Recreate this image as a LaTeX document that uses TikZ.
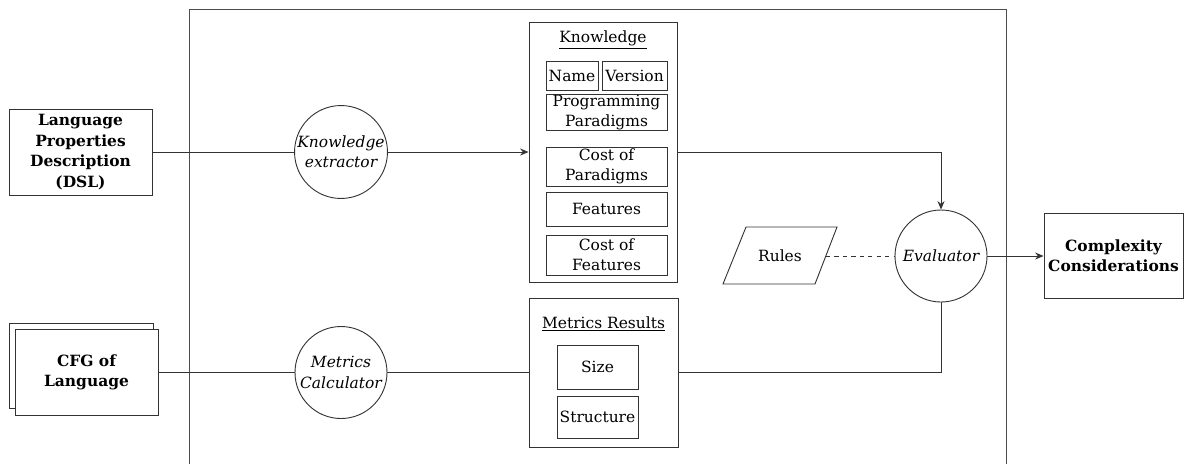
\documentclass[tikz,border=0pt]{standalone}
\usepackage{fontspec}
\setmainfont{DejaVu Serif}
\usetikzlibrary{arrows.meta}
\begin{document}
\begin{tikzpicture}[x=0.025cm,y=-0.025cm,
  every node/.style={font=\fontsize{11}{14.5}\selectfont, align=center, inner sep=0pt},
  ln/.style={draw=black!80, line width=0.65pt},
  box/.style={ln, rectangle, fill=white},
  circ/.style={ln, circle, minimum size=92*0.025cm, font=\fontsize{11}{14.5}\selectfont\itshape},
  arr/.style={ln, -{Stealth[length=6pt,width=5pt]}},
  bld/.style={font=\fontsize{11}{14.5}\selectfont\bfseries}
]
\useasboundingbox (0,0) rectangle (1187,463);
\clip (0,0) rectangle (1187,463);
% outer frame
\draw[ln, draw=black!70] (189,480) -- (189,9) -- (1006,9) -- (1006,480);

% inputs
\node[box, bld, minimum width=143*0.025cm, minimum height=86*0.025cm] (lang) at (80.5,152) {Language\\Properties\\Description\\(DSL)};
\node[box, minimum width=144*0.025cm, minimum height=85*0.025cm] (cfgback) at (81,366) {};
\node[box, bld, minimum width=143*0.025cm, minimum height=86*0.025cm] (cfg) at (86.5,372.5) {CFG of\\Language};

% processors
\node[circ] (ke) at (341,152) {Knowledge\\extractor};
\node[circ] (mc) at (341,372.5) {Metrics\\Calculator};

% knowledge box
\node[box, minimum width=148*0.025cm, minimum height=260*0.025cm] (know) at (603,152) {};
\node (ktitle) at (603,40) {\underline{Knowledge}};
\node[box, minimum width=52*0.025cm, minimum height=29*0.025cm] (name) at (572,75.5) {Name};
\node[box, minimum width=65*0.025cm, minimum height=29*0.025cm] (version) at (634.5,75.5) {Version};
\node[box, minimum width=121*0.025cm, minimum height=35*0.025cm] (prog) at (606.5,112.5) {Programming\\Paradigms};
\node[box, minimum width=121*0.025cm, minimum height=39*0.025cm] (costp) at (606.5,166.5) {Cost of\\Paradigms};
\node[box, minimum width=121*0.025cm, minimum height=34*0.025cm] (feat) at (606.5,209) {Features};
\node[box, minimum width=121*0.025cm, minimum height=40*0.025cm] (costf) at (606.5,255) {Cost of\\Features};

% metrics box
\node[box, minimum width=149*0.025cm, minimum height=149*0.025cm] (metrics) at (603.5,372.5) {};
\node (mtitle) at (603.5,324) {\underline{Metrics Results}};
\node[box, minimum width=81*0.025cm, minimum height=44*0.025cm] (size) at (597.5,367) {Size};
\node[box, minimum width=81*0.025cm, minimum height=42*0.025cm] (struct) at (597.5,417) {Structure};

% rules
\draw[ln] (746,227) -- (837,227) -- (815,284) -- (723,284) -- cycle;
\node (rules) at (780,256) {Rules};
\coordinate (rulesE) at (826,256);

% evaluator and output
\node[circ] (eval) at (941,256) {Evaluator};
\node[box, bld, minimum width=139*0.025cm, minimum height=85*0.025cm] (cc) at (1113.5,256) {Complexity\\Considerations};

% connectors
\draw[ln] (lang.east) -- (ke.west);
\draw[arr] (ke.east) -- (know.west);
\draw[ln] (cfg.east) -- (mc.west);
\draw[ln] (mc.east) -- (metrics.west);
\draw[arr] (know.east) -| (eval.north);
\draw[ln] (metrics.east) -| (eval.south);
\draw[ln, dashed] (rulesE) -- (eval.west);
\draw[arr] (eval.east) -- (cc.west);
\end{tikzpicture}
\end{document}
